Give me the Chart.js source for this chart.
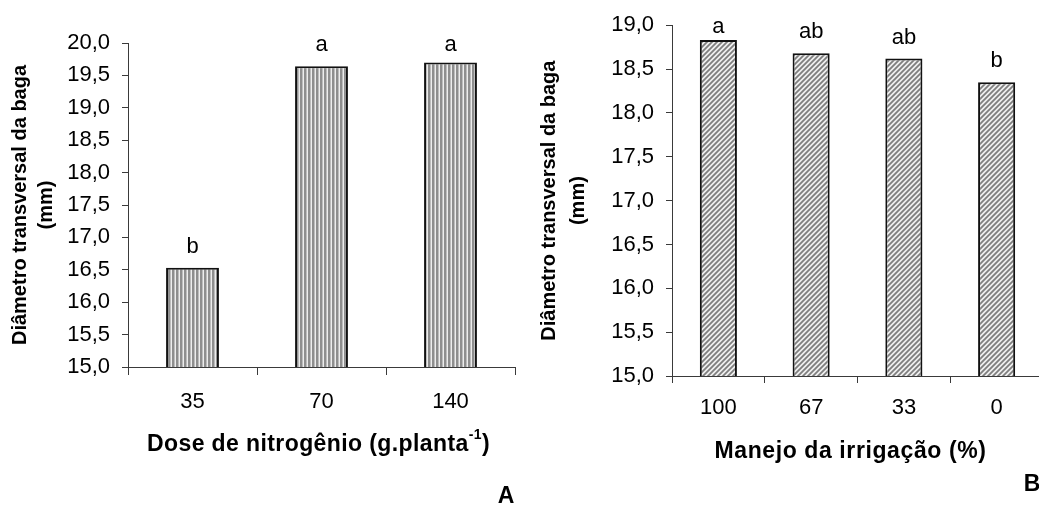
<!DOCTYPE html>
<html>
<head>
<meta charset="utf-8">
<script src="https://cdn.jsdelivr.net/npm/chart.js@4.4.1/dist/chart.umd.min.js"></script>
<style>
  html, body { margin: 0; padding: 0; background: #fff; overflow: hidden; width: 1039px; height: 506px; }
  .panel { position: absolute; top: 0; height: 506px; }
  #wrapA { left: 0; width: 520px; }
  #wrapB { left: 519px; width: 530px; }
</style>
</head>
<body>
<div class="panel" id="wrapA"><canvas id="chartA"></canvas></div>
<div class="panel" id="wrapB"><canvas id="chartB"></canvas></div>
<script>
// Panel A: berry transverse diameter by nitrogen dose
const doseLabels  = ['35', '70', '140'];
const doseValues  = [16.53, 19.64, 19.70];
const doseLetters = ['b', 'a', 'a'];
const doseTicks   = ['15,0', '15,5', '16,0', '16,5', '17,0', '17,5', '18,0', '18,5', '19,0', '19,5', '20,0'];

// Panel B: berry transverse diameter by irrigation management
const irrigLabels  = ['100', '67', '33', '0'];
const irrigValues  = [18.83, 18.68, 18.62, 18.35];
const irrigLetters = ['a', 'ab', 'ab', 'b'];
const irrigTicks   = ['15,0', '15,5', '16,0', '16,5', '17,0', '17,5', '18,0', '18,5', '19,0'];

const FONT = '"Liberation Sans", Arial, Helvetica, sans-serif';

function hatch(kind) {
  const c = document.createElement('canvas');
  const g = c.getContext('2d');
  if (kind === 'vertical') {
    c.width = 4; c.height = 4;
    g.fillStyle = '#ededed'; g.fillRect(0, 0, 4, 4);
    g.fillStyle = '#8e8e8e'; g.fillRect(0, 0, 2, 4);
    g.fillStyle = '#bdbdbd'; g.fillRect(2, 0, 1, 4);
  } else {
    const s = 5;
    c.width = s; c.height = s;
    g.fillStyle = '#f0f0f0'; g.fillRect(0, 0, s, s);
    g.strokeStyle = '#7e7e7e'; g.lineWidth = 1.8;
    g.beginPath();
    g.moveTo(-1, 1); g.lineTo(1, -1);
    g.moveTo(0, s); g.lineTo(s, 0);
    g.moveTo(s - 1, s + 1); g.lineTo(s + 1, s - 1);
    g.stroke();
  }
  return g.createPattern(c, 'repeat');
}

// Letters above bars, axis caption under the x axis and the panel tag
const annotate = {
  id: 'annotate',
  afterDraw(chart, args, o) {
    const ctx = chart.ctx;
    const area = chart.chartArea;
    const meta = chart.getDatasetMeta(0);
    ctx.save();
    ctx.fillStyle = '#000';
    ctx.textAlign = 'center';
    ctx.textBaseline = 'alphabetic';
    ctx.font = '22px ' + FONT;
    meta.data.forEach((bar, i) => {
      const y = Math.max(bar.y - 15, area.top + 8);
      ctx.fillText(o.letters[i], bar.x, y);
    });

    // x axis caption (optional superscript part)
    const cx = (area.left + area.right) / 2 + o.captionShift;
    const cy = area.bottom + o.captionGap;
    ctx.textBaseline = 'middle';
    ctx.textAlign = 'left';
    ctx.letterSpacing = o.captionSpacing;
    const mainFont = 'bold ' + o.captionSize + 'px ' + FONT;
    const supFont = 'bold 14px ' + FONT;
    ctx.font = mainFont;
    const w1 = ctx.measureText(o.caption).width;
    const w3 = o.captionEnd ? ctx.measureText(o.captionEnd).width : 0;
    ctx.font = supFont;
    const w2 = o.captionSup ? ctx.measureText(o.captionSup).width : 0;
    let x = cx - (w1 + w2 + w3) / 2;
    ctx.font = mainFont;
    ctx.fillText(o.caption, x, cy);
    x += w1;
    if (o.captionSup) {
      ctx.font = supFont;
      ctx.fillText(o.captionSup, x, cy - 10);
      x += w2;
    }
    if (o.captionEnd) {
      ctx.font = mainFont;
      ctx.fillText(o.captionEnd, x, cy);
    }
    ctx.letterSpacing = '0px';

    ctx.textAlign = 'center';
    ctx.font = 'bold 23px ' + FONT;
    ctx.fillText(o.tag, o.tagX, o.tagY);
    ctx.restore();
  }
};

function makeChart(id, cfg) {
  const axisColor = '#3a3a3a';
  return new Chart(document.getElementById(id), {
    type: 'bar',
    data: {
      labels: cfg.labels,
      datasets: [{
        data: cfg.values,
        backgroundColor: hatch(cfg.hatch),
        borderColor: '#111',
        borderWidth: 2,
        borderSkipped: false,
        categoryPercentage: 1,
        barPercentage: cfg.barPct
      }]
    },
    options: {
      responsive: true,
      maintainAspectRatio: false,
      animation: false,
      events: [],
      layout: { padding: { left: 0, right: cfg.padRight, top: cfg.padTop, bottom: 0 } },
      plugins: {
        legend: { display: false },
        tooltip: { enabled: false },
        annotate: cfg.annot
      },
      scales: {
        x: {
          grid: { display: true, drawOnChartArea: false, drawTicks: true, tickLength: cfg.xTickLen, color: axisColor, offset: true },
          border: { display: true, color: axisColor, width: 1 },
          ticks: { color: '#000', font: { family: FONT, size: 22 }, padding: cfg.xTickPad, maxRotation: 0 },
          afterFit(scale) { scale.height = cfg.xHeight; }
        },
        y: {
          min: 15, max: cfg.yMax,
          grid: { display: true, drawOnChartArea: false, drawTicks: true, tickLength: 6, color: axisColor },
          border: { display: true, color: axisColor, width: 1 },
          ticks: {
            stepSize: 0.5,
            color: '#000',
            font: { family: FONT, size: 22 },
            padding: 12,
            callback: (v) => cfg.ticks[Math.round((v - 15) / 0.5)]
          },
          title: {
            display: true,
            text: ['Diâmetro transversal da baga', '(mm)'],
            color: '#000',
            font: { family: FONT, size: 20, weight: 'bold', lineHeight: cfg.titleLH },
            padding: { top: cfg.titlePad, bottom: 0 }
          },
          afterFit(scale) { scale.width = cfg.yWidth; }
        }
      }
    },
    plugins: [annotate]
  });
}

makeChart('chartA', {
  labels: doseLabels, values: doseValues, ticks: doseTicks, hatch: 'vertical',
  barPct: 0.41, yMax: 20, padTop: 43, padRight: 5,
  xHeight: 139, xTickLen: 8, xTickPad: 14, yWidth: 128, titleLH: 1.3, titlePad: 7,
  annot: {
    letters: doseLetters,
    caption: 'Dose de nitrogênio (g.planta', captionSup: '-1', captionEnd: ')',
    captionSize: 23, captionSpacing: '0.4px', captionGap: 78, captionShift: -3,
    tag: 'A', tagX: 506, tagY: 497
  }
});

makeChart('chartB', {
  labels: irrigLabels, values: irrigValues, ticks: irrigTicks, hatch: 'diagonal',
  barPct: 0.40, yMax: 19, padTop: 25, padRight: 6,
  xHeight: 130, xTickLen: 7, xTickPad: 12, yWidth: 153, titleLH: 1.45, titlePad: 16,
  annot: {
    letters: irrigLetters,
    caption: 'Manejo da irrigação (%)', captionSup: '', captionEnd: '',
    captionSize: 23, captionSpacing: '0.6px', captionGap: 76, captionShift: -7,
    tag: 'B', tagX: 513, tagY: 485
  }
});
</script>
</body>
</html>
